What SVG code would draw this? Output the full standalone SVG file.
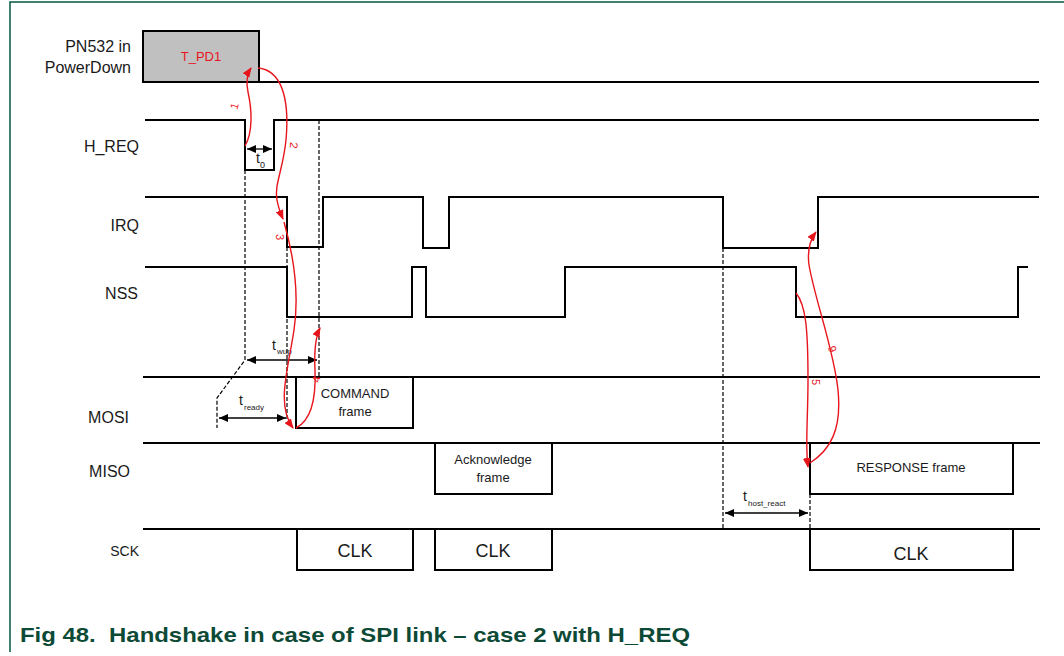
<svg xmlns="http://www.w3.org/2000/svg" width="1064" height="656" viewBox="0 0 1064 656">
<style>
.lbl{font-family:"Liberation Sans",Arial,sans-serif;font-size:16px;fill:#1a1a1a;text-anchor:end}
.wave{fill:none;stroke:#000;stroke-width:2;stroke-linejoin:miter}
.box{fill:#fff;stroke:#000;stroke-width:2}
.dash{fill:none;stroke:#000;stroke-width:1.2;stroke-dasharray:4,2}
.dim{fill:none;stroke:#000;stroke-width:1.3}
.txt{font-family:"Liberation Sans",Arial,sans-serif;font-size:13px;fill:#1a1a1a;text-anchor:middle}
.clk{font-family:"Liberation Sans",Arial,sans-serif;font-size:18px;fill:#1a1a1a;text-anchor:middle}
.t{font-family:"Liberation Sans",Arial,sans-serif;font-size:14px;fill:#1a1a1a}
.sub{font-family:"Liberation Sans",Arial,sans-serif;font-size:8px;fill:#1a1a1a}
.red{fill:none;stroke:#e8141b;stroke-width:1.4}
.rl{font-family:"Liberation Sans",Arial,sans-serif;font-size:11px;fill:#e8141b;text-anchor:middle}
</style>
<defs>
<marker id="ra" markerWidth="10" markerHeight="8" refX="9" refY="4" orient="auto" markerUnits="userSpaceOnUse"><path d="M0,0 L10,4 L0,8 Z" fill="#e8141b"/></marker>
<marker id="ba" markerWidth="9" markerHeight="8" refX="9" refY="4" orient="auto" markerUnits="userSpaceOnUse"><path d="M0,0 L9,4 L0,8 Z" fill="#000"/></marker>
<marker id="bs" markerWidth="9" markerHeight="8" refX="0" refY="4" orient="auto" markerUnits="userSpaceOnUse"><path d="M9,0 L0,4 L9,8 Z" fill="#000"/></marker>
</defs>
<rect width="1064" height="656" fill="#fff"/>
<path d="M10,652 L10,2 L1064,2" fill="none" stroke="#00573f" stroke-width="1.5"/>

<g id="pn532">
<text class="lbl" x="131" y="52">PN532 in</text>
<text class="lbl" x="131" y="73">PowerDown</text>
<rect x="143" y="31" width="116" height="51" fill="#c0c0c0" stroke="#000" stroke-width="2"/>
<path class="wave" d="M259,82 L1039,82"/>
<text x="201" y="61" font-family="Liberation Sans, Arial, sans-serif" font-size="13" fill="#e8141b" text-anchor="middle">T_PD1</text>
</g>

<g id="hreq">
<text class="lbl" x="139" y="152">H_REQ</text>
<path class="wave" d="M145,120 L245,120 L245,170 L274,170 L274,120 L1039,120"/>
</g>

<g id="irq">
<text class="lbl" x="139" y="231">IRQ</text>
<path class="wave" d="M145,197 L287,197 L287,247 L323,247 L323,197 L423,197 L423,248 L449,248 L449,197 L723,197 L723,248 L818,248 L818,197 L1039,197"/>
</g>

<g id="nss">
<text class="lbl" x="138" y="299">NSS</text>
<path class="wave" d="M145,267 L287,267 L287,317 L412,317 L412,267 L426,267 L426,317 L565,317 L565,267 L796,267 L796,317 L1018,317 L1018,267 L1028,267" stroke-width="1.8"/>
</g>

<g id="mosi">
<text class="lbl" x="129" y="423">MOSI</text>
<path class="wave" d="M143,377 L1040,377"/>
<rect class="box" x="296" y="377" width="117" height="51"/>
<text class="txt" x="355" y="398">COMMAND</text>
<text class="txt" x="355" y="416">frame</text>
</g>

<g id="miso">
<text class="lbl" x="130" y="477">MISO</text>
<path class="wave" d="M143,443 L1040,443"/>
<rect class="box" x="435" y="443" width="117" height="51"/>
<text class="txt" x="493" y="464">Acknowledge</text>
<text class="txt" x="493" y="482">frame</text>
<rect class="box" x="810" y="443" width="203" height="51"/>
<text class="txt" x="911" y="472">RESPONSE frame</text>
</g>

<g id="sck">
<text class="lbl" x="139" y="556" style="font-size:14px">SCK</text>
<path class="wave" d="M143,529 L1040,529"/>
<rect class="box" x="297" y="529" width="116" height="41"/>
<text class="clk" x="355" y="557">CLK</text>
<rect class="box" x="435" y="529" width="117" height="41"/>
<text class="clk" x="493" y="557">CLK</text>
<rect class="box" x="810" y="529" width="203" height="41"/>
<text class="clk" x="911" y="560">CLK</text>
</g>

<g id="timing">
<path class="dash" d="M245,170 L245,360 L217,398 L217,428"/>
<path class="dash" d="M319,120 L319,377"/>
<path class="dash" d="M287,247 L287,420"/>
<path class="dash" d="M723,248 L723,530"/>
<path class="dash" d="M810,494 L810,530"/>
<path class="dim" d="M247,149 L272,149" marker-start="url(#bs)" marker-end="url(#ba)"/>
<text class="t" x="256" y="163">t</text><text class="sub" x="260" y="168" style="font-size:9px">0</text>
<path class="dim" d="M247,360 L317,360" marker-start="url(#bs)" marker-end="url(#ba)"/>
<text class="t" x="272" y="350">t</text><text class="sub" x="277" y="354">wup</text>
<path class="dim" d="M219,418 L286,418" marker-start="url(#bs)" marker-end="url(#ba)"/>
<text class="t" x="239" y="405">t</text><text class="sub" x="244" y="410">ready</text>
<path class="dim" d="M725,513 L808,513" marker-start="url(#bs)" marker-end="url(#ba)"/>
<text class="t" x="743" y="501">t</text><text class="sub" x="748" y="506">host_react</text>
</g>

<g id="connectors">
<path class="red" d="M245,146 C253,132 252,110 248,92 C246,82 247,74 251,68" marker-end="url(#ra)"/>
<path class="red" d="M258,68 C280,70 290,95 286,140 C283,170 274,185 277,200 C278,206 280,212 283,219" marker-end="url(#ra)"/>
<path class="red" d="M284,222 C292,250 300,290 294,330 C288,370 276,405 293,428" marker-end="url(#ra)"/>
<path class="red" d="M296,428 C312,420 316,395 315,370 C314,350 316,336 320,328" marker-end="url(#ra)"/>
<path class="red" d="M796,293 C806,305 808,330 808,380 C808,420 805,445 808,467" marker-end="url(#ra)"/>
<path class="red" d="M810,463 C830,450 842,430 838,390 C834,350 815,300 809,265 C807,250 810,240 816,232" marker-end="url(#ra)"/>
<text class="rl" transform="translate(238,107) rotate(-75)">1</text>
<text class="rl" transform="translate(290,145) rotate(95)">2</text>
<text class="rl" transform="translate(276,237) rotate(90)">3</text>
<text class="rl" transform="translate(320,380) rotate(-80)">4</text>
<text class="rl" transform="translate(812,382) rotate(90)">5</text>
<text class="rl" transform="translate(836,348) rotate(-105)">6</text>
</g>

<text x="20" y="642" font-family="Liberation Sans, Arial, sans-serif" font-size="21" font-weight="bold" fill="#0d4a36" textLength="670" lengthAdjust="spacingAndGlyphs" xml:space="preserve">Fig 48.  Handshake in case of SPI link – case 2 with H_REQ</text>
</svg>
